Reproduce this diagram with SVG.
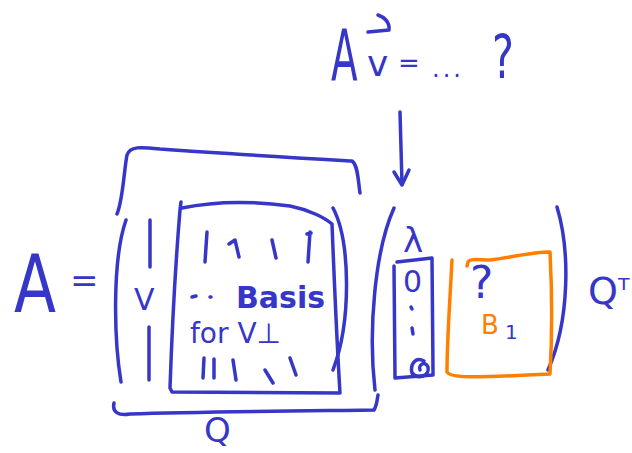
<svg xmlns="http://www.w3.org/2000/svg" width="632" height="453" viewBox="0 0 632 453">
<style>
.s{fill:none;stroke:#3636c8;stroke-width:3.5;stroke-linecap:round;stroke-linejoin:round}
.o{fill:none;stroke:#ff8000;stroke-width:3.5;stroke-linecap:round;stroke-linejoin:round}
.t{fill:#3636c8;font-family:"DejaVu Sans",sans-serif}
.to{fill:#ff8000;font-family:"DejaVu Sans",sans-serif}
</style>
<rect width="632" height="453" fill="#fff"/>
<g id="lhs">
<text class="t" x="14" y="312" font-size="80" textLength="42" lengthAdjust="spacingAndGlyphs">A</text>
<text class="t" x="70" y="292" font-size="34">=</text>
</g>
<g id="question">
<text class="t" transform="translate(331,80) scale(0.54,1)" font-size="72">A</text>
<text class="t" x="367" y="76" font-size="36">v</text>
<text class="t" x="398" y="72" font-size="26">=</text>
<path class="s" d="M368 32 L389 30 M378 15 C384 17 390 22 389 30"/>
<text class="t" x="432" y="77" font-size="24" letter-spacing="3">...</text>
<text class="t" x="492" y="78" font-size="60" textLength="22" lengthAdjust="spacingAndGlyphs">?</text>
</g>
<g id="connectors">
<path class="s" d="M400 112 L402 184"/>
<path class="s" d="M394 172 L402 185 L409 170"/>
</g>
<g id="Q">
<path class="s" d="M117 214 C123 200 124 170 127 155 C130 146 140 147 160 149 C230 154 300 158 352 161 C358 165 358 180 360 193"/>
<path class="s" d="M114 403 C112 412 118 416 130 414 C200 412 300 411 374 410 C377 405 377 400 378 395"/>
<path class="s" d="M126 220 C112 260 114 340 121 382"/>
<path class="s" d="M150 220 L150 267"/>
<text class="t" x="134" y="310" font-size="30">V</text>
<path class="s" d="M149 327 L149 380"/>
<path class="s" d="M181 202 L180 210 C175 270 172 330 170 388 L172 392 L340 393 C338 360 335 300 332 224 C325 218 310 210 290 206 C260 202 220 200 182 208"/>
<path class="s" d="M333 208 C350 240 352 320 333 370"/>
<path class="s" d="M207 232 L205 262 M229 244 L235 240 L239 257 M272 240 L276 258 M310 232 L308 262 M307 234 L311 233"/>
<path class="s" d="M192 297 L196 296 M210 297 L211 297"/>
<text class="t" x="236" y="308" font-size="30" font-weight="bold">Basis</text>
<text class="t" x="190" y="343" font-size="28">for V⊥</text>
<path class="s" d="M204 358 L203 378 M214 359 L214 378 M233 360 L236 380 M265 370 L273 383 M290 358 L296 375"/>
<text class="t" x="204" y="442" font-size="34">Q</text>
</g>
<g id="middle">
<path class="s" d="M394 208 C375 250 368 330 375 390"/>
<path class="s" d="M557 207 C570 250 570 320 548 370"/>
<text class="t" x="403" y="252" font-size="34">λ</text>
<path class="s" d="M397 262 L432 258 L433 370 L433 375 L395 378 L394 266"/>
<text class="t" x="403" y="292" font-size="30">0</text>
<path class="s" d="M411 307 L412 309 M412 328 L413 334"/>
<path class="s" d="M424 361 C415 356 410 365 412 373 C418 380 430 376 428 367 C425 360 418 365 420 370"/>
<path class="o" d="M452 260 C450 300 447 340 447 372 C450 378 470 378 550 374 C552 340 552 290 550 252 C530 252 510 258 490 260 C480 260 470 258 468 262 L467 266"/>
<text class="t" x="470" y="298" font-size="44">?</text>
<text class="to" x="481" y="334" font-size="26">B</text>
<text class="t" x="505" y="339" font-size="20">1</text>
<text class="t" x="588" y="304" font-size="38">Q<tspan font-size="30" dy="-4">ᵀ</tspan></text>
</g>
</svg>
